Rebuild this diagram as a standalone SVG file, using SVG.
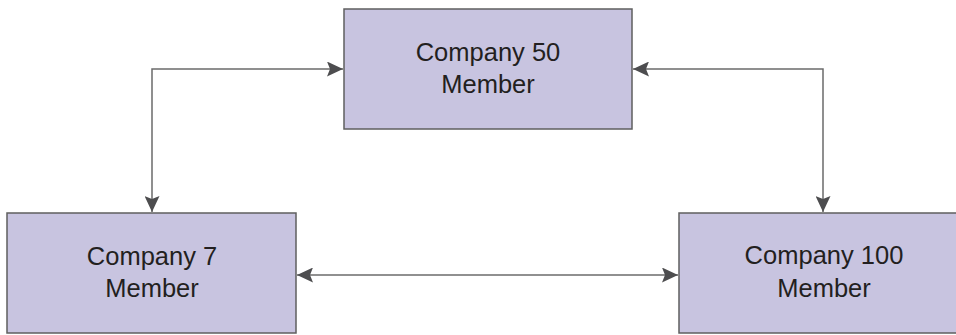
<svg xmlns="http://www.w3.org/2000/svg" width="956" height="335" viewBox="0 0 956 335">
<style>
.box{fill:#c8c4e0;stroke:#5f5f5f;stroke-width:1.5}
.lbl{font-family:"Liberation Sans",Arial,sans-serif;font-size:25.5px;fill:#231f20;text-anchor:middle}
.conn{fill:none;stroke:#6b6b6b;stroke-width:1.5}
</style>
<defs>
<marker id="ah" markerWidth="16" markerHeight="15" refX="16" refY="7.5" orient="auto-start-reverse" markerUnits="userSpaceOnUse">
<path d="M0,0 L16,7.5 L0,15 L3,7.5 z" fill="#4d4d4f"/>
</marker>
</defs>
<rect width="956" height="335" fill="#ffffff"/>
<g id="node-c50">
<rect class="box" x="344" y="9" width="288" height="120"/>
<text class="lbl" x="488" y="61">Company 50</text>
<text class="lbl" x="488" y="93">Member</text>
</g>
<g id="node-c7">
<rect class="box" x="7" y="213" width="289" height="120"/>
<text class="lbl" x="152" y="265">Company 7</text>
<text class="lbl" x="152" y="297">Member</text>
</g>
<g id="node-c100">
<rect class="box" x="679" y="213" width="290" height="120"/>
<text class="lbl" x="824" y="264">Company 100</text>
<text class="lbl" x="824" y="297">Member</text>
</g>
<g id="connectors">
<path class="conn" d="M152,212 L152,69 L343,69" marker-start="url(#ah)" marker-end="url(#ah)"/>
<path class="conn" d="M633,69 L823,69 L823,212" marker-start="url(#ah)" marker-end="url(#ah)"/>
<path class="conn" d="M297,275 L678,275" marker-start="url(#ah)" marker-end="url(#ah)"/>
</g>
</svg>
